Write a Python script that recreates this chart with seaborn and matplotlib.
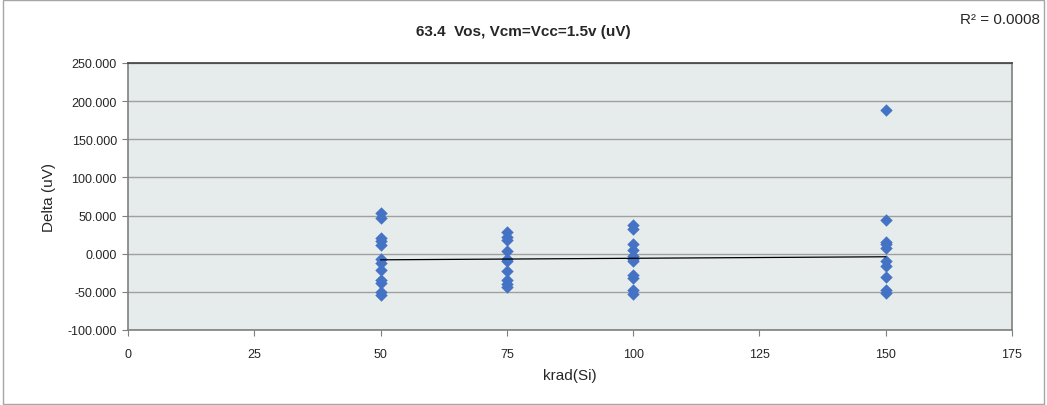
import seaborn as sns
import matplotlib.pyplot as plt
import matplotlib.ticker as mticker
from matplotlib.patches import Rectangle
import pandas as pd

# values
dose_50 = [53, 47, 20, 17, 12, -7, -12, -22, -35, -38, -50, -54]
dose_75 = [28, 22, 18, 3, -7, -10, -23, -35, -40, -44]
dose_100 = [37, 33, 13, 5, -3, -7, -10, -28, -32, -48, -53]
dose_150 = [188, 44, 16, 13, 8, -9, -16, -30, -48, -51]
doses = [50, 75, 100, 150]

# Excel linear trendline (R^2 = 0.0008)
trend_x = [50, 150]
trend_y = [-8, -4]

krad = []
delta = []
for d, vals in zip(doses, [dose_50, dose_75, dose_100, dose_150]):
    krad += [d] * len(vals)
    delta += vals
df = pd.DataFrame({'krad': krad, 'delta': delta})

sns.set_style('white')
plt.rcParams['font.family'] = ['Liberation Sans', 'DejaVu Sans']

fig = plt.figure(figsize=(10.47, 4.06), dpi=100)
ax = fig.add_axes([128 / 1047, 1 - 331 / 406, (1012 - 128) / 1047, (331 - 64) / 406])
ax.set_facecolor('#E6EBEB')

# chart border
fig.patches.append(Rectangle((0.003, 0.003), 0.994, 0.994, transform=fig.transFigure,
                             fill=False, edgecolor='#A6A6A6', linewidth=1))

sns.scatterplot(data=df, x='krad', y='delta', marker='D', s=40, color='#4472C4',
                edgecolor='#4472C4', linewidth=0, ax=ax, zorder=3)

sns.lineplot(x=trend_x, y=trend_y, color='black', linewidth=0.9, ax=ax, zorder=4)

ax.set_xlim(0, 175)
ax.set_ylim(-100, 250)
ax.set_xticks(range(0, 176, 25))
ax.set_yticks(range(-100, 251, 50))
ax.yaxis.set_major_formatter(mticker.FuncFormatter(lambda v, p: f'{v:.3f}'))
ax.grid(axis='y', color='#A0A0A0', linewidth=1)
ax.set_axisbelow(True)
for s in ax.spines.values():
    s.set_color('#7F7F7F')
    s.set_linewidth(1.2)
ax.spines['top'].set_color('#404040')
ax.tick_params(axis='both', labelsize=9, length=4, color='#7F7F7F', direction='out',
               left=True, bottom=True, pad=4)
ax.tick_params(axis='x', pad=9)

ax.set_xlabel('krad(Si)', fontsize=11, labelpad=6)
ax.set_ylabel('Delta (uV)', fontsize=11, labelpad=8)
fig.text(0.5, 1 - 32 / 406, '63.4  Vos, Vcm=Vcc=1.5v (uV)', ha='center', va='center',
         fontsize=11, fontweight='bold')
fig.text(0.993, 1 - 20 / 406, 'R² = 0.0008', ha='right', va='center', fontsize=11)

fig.savefig('out.png', dpi=100)
